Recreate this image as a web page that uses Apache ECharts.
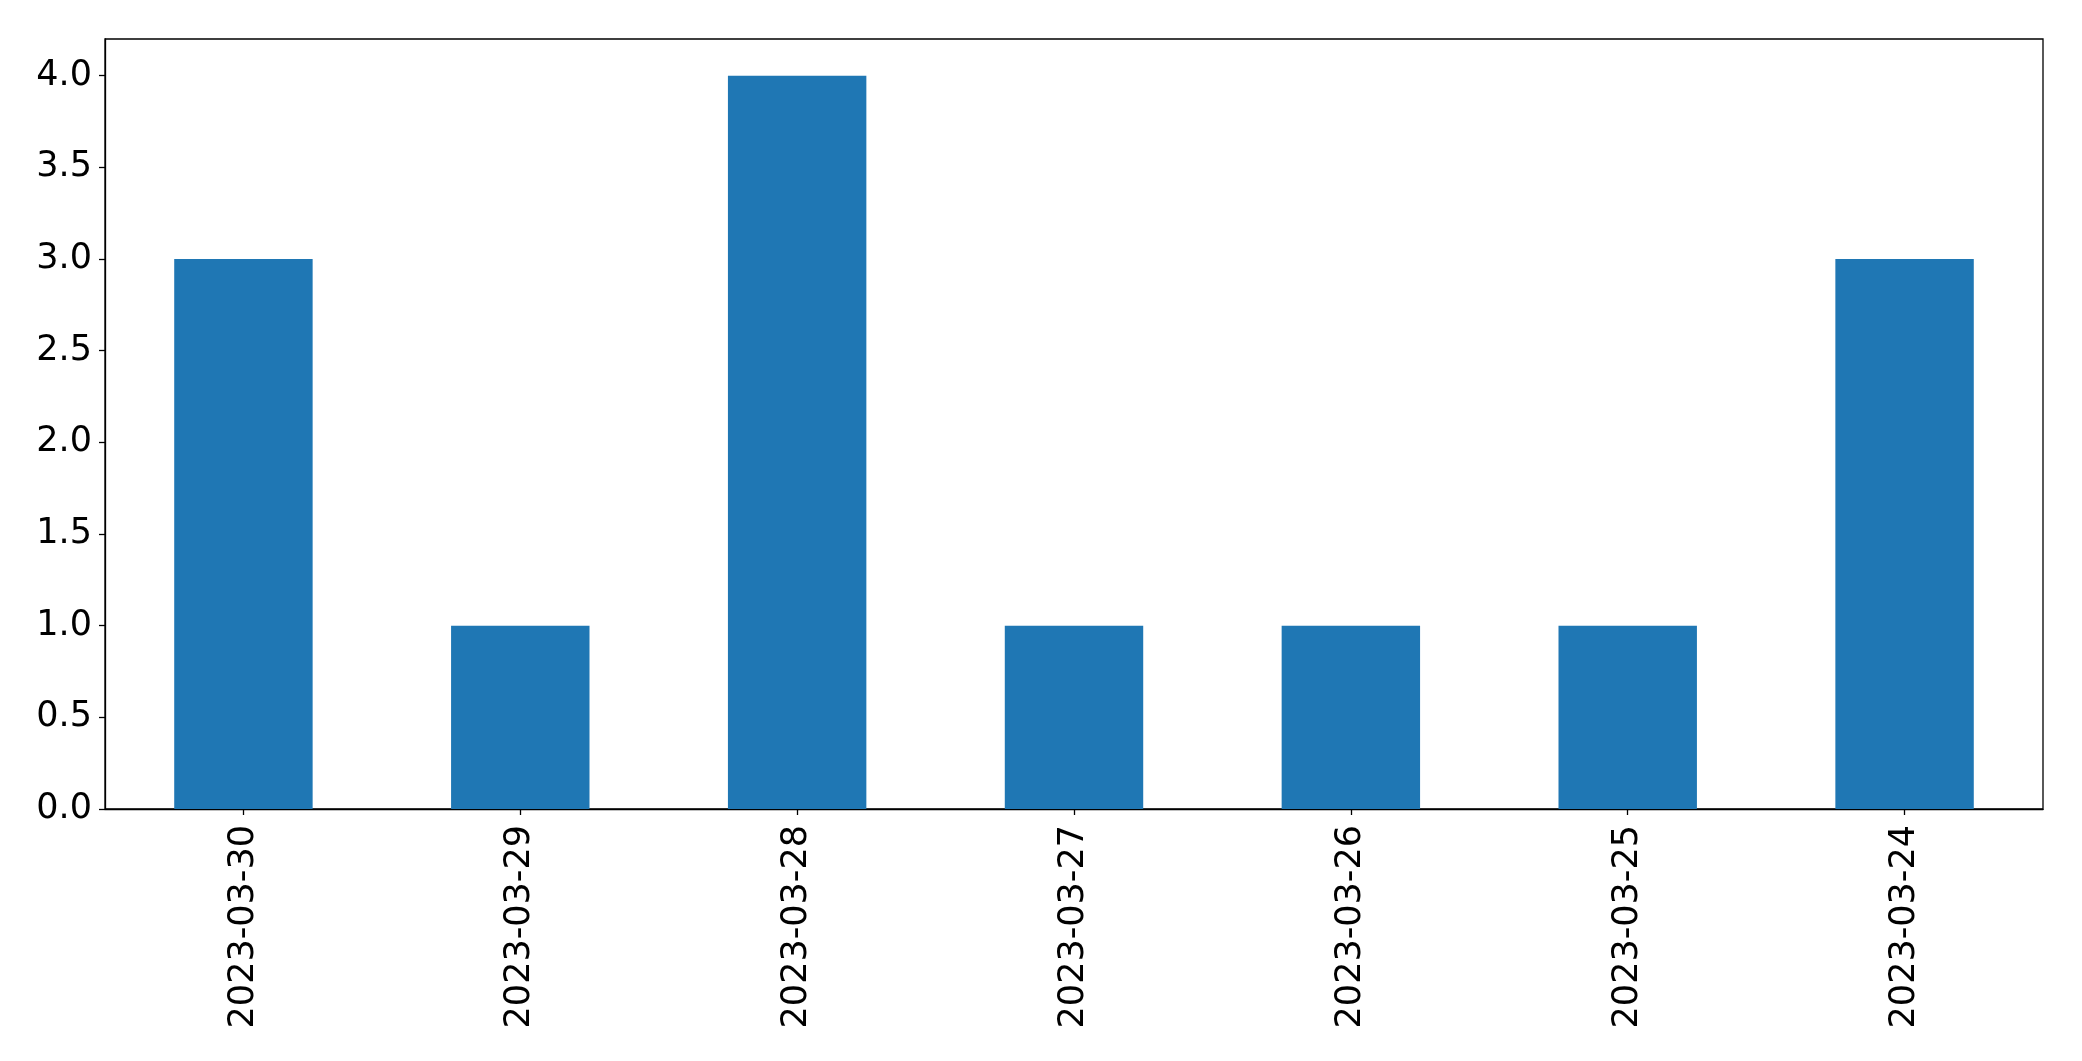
<!DOCTYPE html>
<html>
<head>
<meta charset="utf-8">
<script src="https://cdn.jsdelivr.net/npm/echarts@6/dist/echarts.min.js"></script>
<style>
html,body{margin:0;padding:0;background:#fff;}
#chart{width:2082px;height:1061px;}
</style>
</head>
<body>
<div id="chart"></div>
<script>
const categories = ['2023-03-30','2023-03-29','2023-03-28','2023-03-27','2023-03-26','2023-03-25','2023-03-24'];
const counts = [3, 1, 4, 1, 1, 1, 3];
const yTicks = [0, 0.5, 1.0, 1.5, 2.0, 2.5, 3.0, 3.5, 4.0];

const chart = echarts.init(document.getElementById('chart'), null, {renderer: 'canvas'});
const font = 'DejaVu Sans';
chart.setOption({
  animation: false,
  backgroundColor: '#ffffff',
  grid: {
    left: 105, top: 39, right: 39, bottom: 252,
    show: true, borderColor: '#000', borderWidth: 1.3, backgroundColor: 'transparent',
    containLabel: false
  },
  xAxis: {
    type: 'category',
    data: categories,
    boundaryGap: true,
    axisLine: {show: true, lineStyle: {color: '#000', width: 1.3}},
    axisTick: {show: true, alignWithLabel: true, length: 6, lineStyle: {color: '#000', width: 1.3}},
    axisLabel: {rotate: 90, margin: 16, color: '#000', fontFamily: font, fontSize: 35, interval: 0},
    splitLine: {show: false}
  },
  yAxis: {
    type: 'value',
    min: 0, max: 4.2,
    axisLine: {show: true, lineStyle: {color: '#000', width: 1.3}},
    axisTick: {show: true, length: 6, customValues: yTicks, lineStyle: {color: '#000', width: 1.3}},
    axisLabel: {color: '#000', fontFamily: font, fontSize: 35, margin: 13, customValues: yTicks,
      formatter: v => Number(v).toFixed(1)},
    splitLine: {show: false}
  },
  series: [{
    type: 'bar',
    data: counts,
    barWidth: '50%',
    itemStyle: {color: '#1f77b4'}
  }]
});
</script>
</body>
</html>
